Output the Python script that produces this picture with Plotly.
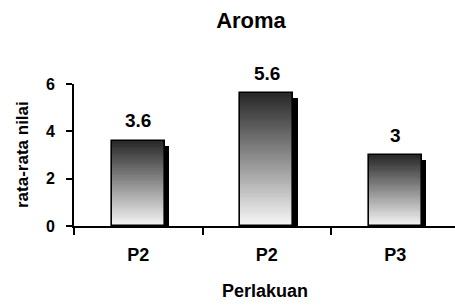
import plotly.graph_objects as go

categories = ["P2", "P2 ", "P3"]
tick_labels = ["P2", "P2", "P3"]
values = [3.6, 5.6, 3.0]
value_labels = ["3.6", "5.6", "3"]
chart_title = "Aroma"
x_title = "Perlakuan"
y_title = "rata-rata nilai"

FONT = "Liberation Sans, Arial, sans-serif"
BAR_W = 0.41
SHADOW_DX = 0.035
SHADOW_DY = 0.21
N_SEG = 60
TOP_GRAY = 40
BOT_GRAY = 248

fig = go.Figure()

# shadow
fig.add_trace(go.Bar(
    x=categories, y=[v - SHADOW_DY for v in values],
    width=BAR_W, offset=-BAR_W / 2 + SHADOW_DX,
    marker=dict(color="black", line=dict(width=0)),
    hoverinfo="skip", showlegend=False,
))

# gradient segments
for k in range(N_SEG):
    t = (k + 0.5) / N_SEG
    g = int(round(BOT_GRAY - (BOT_GRAY - TOP_GRAY) * t))
    fig.add_trace(go.Bar(
        x=categories, y=[v / N_SEG for v in values],
        base=[v * k / N_SEG for v in values],
        width=BAR_W, offset=-BAR_W / 2,
        marker=dict(color=f"rgb({g},{g},{g})", line=dict(width=0)),
        hoverinfo="skip", showlegend=False,
    ))

# outline
fig.add_trace(go.Bar(
    x=categories, y=values,
    width=BAR_W, offset=-BAR_W / 2,
    marker=dict(color="rgba(0,0,0,0)", line=dict(color="black", width=1.6)),
    showlegend=False,
))

for c, v, lab in zip(categories, values, value_labels):
    fig.add_annotation(x=c, y=v, text=f"<b>{lab}</b>", showarrow=False,
                       yanchor="middle", yshift=20,
                       font=dict(family=FONT, size=19, color="black"))

fig.add_annotation(xref="paper", yref="paper", x=(22 - 74) / 381, y=0.5,
                   text=f"<b>{y_title}</b>", textangle=-90, showarrow=False,
                   xanchor="center", yanchor="middle",
                   font=dict(family=FONT, size=17, color="black"))
fig.add_annotation(xref="paper", yref="paper", x=(265 - 74) / 381, y=-(291 - 226) / 142,
                   text=f"<b>{x_title}</b>", showarrow=False,
                   xanchor="center", yanchor="middle",
                   font=dict(family=FONT, size=18, color="black"))

fig.update_layout(
    width=455, height=305,
    margin=dict(l=74, r=0, t=84, b=79),
    paper_bgcolor="white", plot_bgcolor="white",
    barmode="overlay", bargap=0,
    title=dict(text=f"<b>{chart_title}</b>", xref="container", yref="container",
               x=251 / 455, y=1 - 20 / 305, xanchor="center", yanchor="middle",
               font=dict(family=FONT, size=22, color="black")),
    xaxis=dict(
        type="category", categoryorder="array", categoryarray=categories,
        tickvals=categories, ticktext=[f"<b>{t}</b>" for t in tick_labels],
        range=[-0.5, 2.465], tickson="boundaries",
        ticks="outside", ticklen=7, tickwidth=2, tickcolor="black",
        showline=True, linecolor="black", linewidth=2,
        showgrid=False, zeroline=False, ticklabelstandoff=11,
        tickfont=dict(family=FONT, size=18, color="black"),
    ),
    yaxis=dict(
        range=[0, 6], dtick=2, tick0=0,
        tickformat="d",
        ticks="outside", ticklen=6, tickwidth=2, tickcolor="black",
        showline=True, linecolor="black", linewidth=2,
        showgrid=False, zeroline=False, ticklabelstandoff=8,
        tickfont=dict(family=FONT, size=16, color="black"),
        tickprefix="<b>", ticksuffix="</b>",
    ),
)

fig.write_html("out.html", config={"displayModeBar": False},
               post_script="document.body.style.margin='0px';document.body.style.padding='0px';")
